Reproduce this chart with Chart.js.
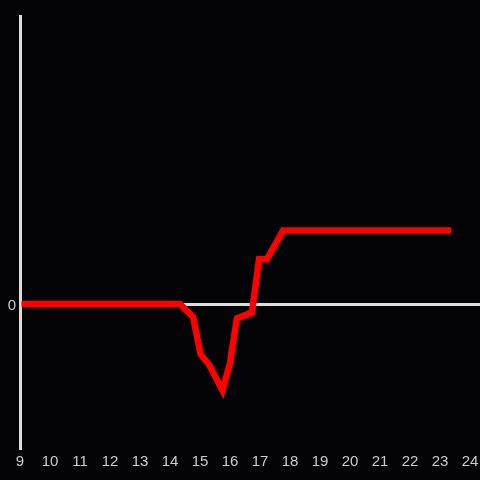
<!DOCTYPE html>
<html>
<head>
<meta charset="utf-8">
<script src="https://cdn.jsdelivr.net/npm/chart.js@4/dist/chart.umd.min.js"></script>
<style>
    html, body { margin: 0; padding: 0; background: #040306; }
    canvas { display: block; }
</style>
</head>
<body>
<canvas id="chart" width="480" height="480"></canvas>
<script>
// Data (x = hour of day)
const hours  = [9.05, 14.33, 14.77, 15.02, 15.3, 15.75, 16.0, 16.23, 16.73, 16.97, 17.23, 17.77, 23.37];
const values = [0, 0, -0.09, -0.35, -0.42, -0.6, -0.41, -0.10, -0.06, 0.31, 0.31, 0.51, 0.51];
const xTicks = [9, 10, 11, 12, 13, 14, 15, 16, 17, 18, 19, 20, 21, 22, 23, 24];
const yTicks = [0];

const points = hours.map((h, i) => ({ x: h, y: values[i] }));

const ctx = document.getElementById('chart').getContext('2d');
new Chart(ctx, {
    type: 'line',
    data: {
        datasets: [{
            data: points,
            borderColor: '#ff0000',
            borderWidth: 6.5,
            borderCapStyle: 'butt',
            borderJoinStyle: 'miter',
            pointRadius: 0,
            tension: 0,
            fill: false
        }]
    },
    options: {
        responsive: false,
        animation: false,
        layout: { padding: { top: 16, right: 0, left: 0, bottom: 0 } },
        plugins: {
            legend: { display: false },
            tooltip: { enabled: false }
        },
        scales: {
            x: {
                type: 'linear',
                min: 9,
                max: 24.333,
                afterBuildTicks: s => { s.ticks = xTicks.map(v => ({ value: v })); },
                afterFit: s => {
                    s.height = 32;
                    s.paddingLeft = 0;
                    s.paddingRight = 0;
                },
                grid: { display: false, drawTicks: false },
                border: { display: false },
                ticks: {
                    color: '#cccccc',
                    padding: 5,
                    maxRotation: 0,
                    autoSkip: false,
                    font: { family: 'Liberation Sans', size: 15 }
                }
            },
            y: {
                min: -1,
                max: 2,
                afterBuildTicks: s => { s.ticks = yTicks.map(v => ({ value: v })); },
                afterFit: s => { s.width = 20; },
                grid: {
                    drawTicks: false,
                    color: c => (c.tick && c.tick.value === 0) ? '#dddddd' : 'rgba(0,0,0,0)',
                    lineWidth: 3
                },
                border: { display: true, color: '#dddddd', width: 3 },
                ticks: {
                    color: '#cccccc',
                    padding: 4,
                    labelOffset: 2,
                    font: { family: 'Liberation Sans', size: 15 }
                }
            }
        }
    }
});
</script>
</body>
</html>
